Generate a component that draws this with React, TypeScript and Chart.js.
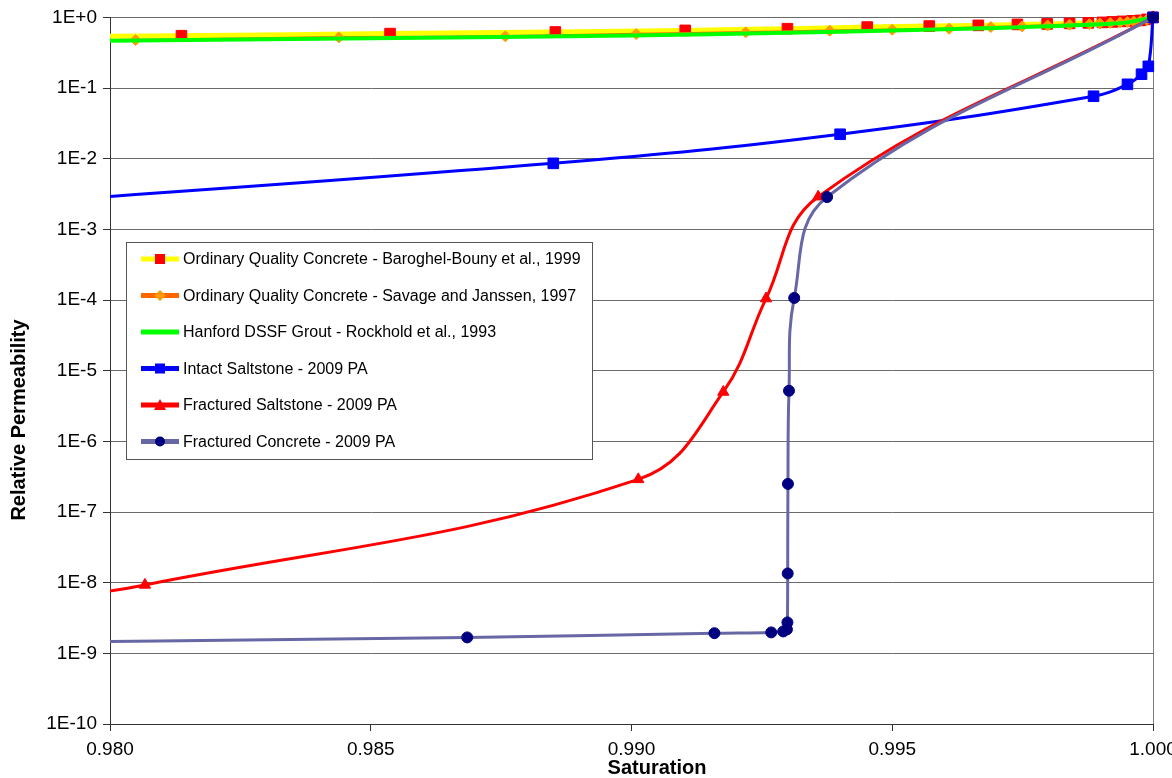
import React, { useEffect, useRef } from 'react';
import { Chart, registerables } from 'chart.js';

Chart.register(...registerables);

// ---------------- DATA ----------------
const baroghelSat = [0.978, 0.98137, 0.98537, 0.98854, 0.99103, 0.99299, 0.99452, 0.99571, 0.99665, 0.9974, 0.99797, 0.9984, 0.99876, 0.99903, 0.99922, 0.99941, 0.9996, 0.99976, 0.99989, 1.0];
const baroghelKr = [0.53, 0.551, 0.59, 0.622, 0.655, 0.692, 0.73, 0.754, 0.771, 0.796, 0.809, 0.823, 0.836, 0.85, 0.864, 0.878, 0.893, 0.907, 0.937, 1.0];

const savageSat = [0.978, 0.98049, 0.98439, 0.98758, 0.99009, 0.99219, 0.9938, 0.995, 0.99609, 0.99689, 0.99749, 0.99798, 0.9984, 0.99878, 0.99898, 0.99918, 0.99937, 0.99951, 0.99963, 0.99976, 0.99988, 1.0];
const savageKr = [0.465, 0.478, 0.522, 0.539, 0.581, 0.614, 0.649, 0.67, 0.692, 0.73, 0.746, 0.771, 0.789, 0.804, 0.823, 0.836, 0.85, 0.864, 0.878, 0.893, 0.922, 0.97];

const hanfordSat = [0.978, 0.985, 0.99, 0.993, 0.995, 0.997, 0.998, 0.999, 0.9995, 1.0];
const hanfordKr = [0.455, 0.505, 0.555, 0.605, 0.65, 0.71, 0.75, 0.8, 0.85, 1.0];

const intactSat = [0.975, 0.9885, 0.994, 0.99886, 0.99951, 0.99978, 0.99991, 1.0];
const intactKr = [1.6e-3, 8.6e-3, 0.0222, 0.0766, 0.113, 0.157, 0.203, 1.0];

const fracSaltSat = [0.978, 0.98067, 0.99013, 0.99176, 0.99258, 0.99358, 1.0];
const fracSaltKr = [4.8e-9, 9.3e-9, 2.9e-7, 5.0e-6, 1.05e-4, 2.9e-3, 1.0];

const fracConcSat = [0.975, 0.98685, 0.99159, 0.99268, 0.99291, 0.99298, 0.99299, 0.992995, 0.993, 0.99302, 0.99312, 0.99375, 1.0];
const fracConcKr = [1.35e-9, 1.68e-9, 1.93e-9, 1.98e-9, 2.04e-9, 2.18e-9, 2.74e-9, 1.35e-8, 2.5e-7, 5.2e-6, 1.07e-4, 2.87e-3, 1.0];

const seriesLabels = [
  'Ordinary Quality Concrete - Baroghel-Bouny et al., 1999',
  'Ordinary Quality Concrete - Savage and Janssen, 1997',
  'Hanford DSSF Grout - Rockhold et al., 1993',
  'Intact Saltstone - 2009 PA',
  'Fractured Saltstone - 2009 PA',
  'Fractured Concrete - 2009 PA',
];

const xTickValues = [0.98, 0.985, 0.99, 0.995, 1.0];
const xTickLabels = ['0.980', '0.985', '0.990', '0.995', '1.000'];
const yTickValues = [1e-10, 1e-9, 1e-8, 1e-7, 1e-6, 1e-5, 1e-4, 1e-3, 1e-2, 1e-1, 1];
const yTickLabels = ['1E-10', '1E-9', '1E-8', '1E-7', '1E-6', '1E-5', '1E-4', '1E-3', '1E-2', '1E-1', '1E+0'];

const xTitle = 'Saturation';
const yTitle = 'Relative Permeability';

// ---------------- STYLE ----------------
const FONT = "'Liberation Sans', Arial, Helvetica, sans-serif";

type Def = {
  xs: number[]; ys: number[]; line: string; width: number; point: string;
  style: any; radius: number; legendWidth: number; legendSize: number;
};

const defs: Def[] = [
  { xs: baroghelSat, ys: baroghelKr, line: '#FFFF00', width: 5, point: '#FF0000', style: 'rect', radius: 7.5, legendWidth: 5, legendSize: 10 },
  { xs: savageSat, ys: savageKr, line: '#FF6600', width: 2.5, point: '#FF9900', style: 'rectRot', radius: 5.5, legendWidth: 5, legendSize: 9 },
  { xs: hanfordSat, ys: hanfordKr, line: '#00FF00', width: 4, point: '#00FF00', style: false, radius: 0, legendWidth: 5, legendSize: 0 },
  { xs: intactSat, ys: intactKr, line: '#0000FF', width: 3, point: '#0000FF', style: 'rect', radius: 7.5, legendWidth: 5, legendSize: 10 },
  { xs: fracSaltSat, ys: fracSaltKr, line: '#FF0000', width: 3, point: '#FF0000', style: 'triangle', radius: 6.5, legendWidth: 5, legendSize: 10 },
  { xs: fracConcSat, ys: fracConcKr, line: '#6767A5', width: 3, point: '#000080', style: 'circle', radius: 5.5, legendWidth: 5, legendSize: 10 },
];

function drawMarker(ctx: CanvasRenderingContext2D, style: any, x: number, y: number, size: number, color: string) {
  if (!style || !size) return;
  const h = size / 2;
  ctx.fillStyle = color;
  ctx.beginPath();
  if (style === 'rect') {
    ctx.rect(x - h, y - h, size, size);
  } else if (style === 'rectRot') {
    ctx.moveTo(x, y - h - 1);
    ctx.lineTo(x + h + 1, y);
    ctx.lineTo(x, y + h + 1);
    ctx.lineTo(x - h - 1, y);
    ctx.closePath();
  } else if (style === 'triangle') {
    ctx.moveTo(x, y - h - 1);
    ctx.lineTo(x + h + 1, y + h);
    ctx.lineTo(x - h - 1, y + h);
    ctx.closePath();
  } else if (style === 'circle') {
    ctx.arc(x, y, h, 0, Math.PI * 2);
  }
  ctx.fill();
}

const framePlugin = {
  id: 'framePlugin',
  beforeDatasetsDraw(chart: any) {
    const { ctx, chartArea: a } = chart;
    ctx.save();
    ctx.strokeStyle = '#808080';
    ctx.lineWidth = 1;
    ctx.beginPath();
    ctx.moveTo(Math.round(a.right) + 0.5, a.top);
    ctx.lineTo(Math.round(a.right) + 0.5, a.bottom);
    ctx.stroke();
    ctx.restore();
  },
  afterDraw(chart: any) {
    const { ctx } = chart;
    ctx.save();
    // legend box
    const bx = 126, by = 242, bw = 466, bh = 217;
    ctx.fillStyle = '#FFFFFF';
    ctx.fillRect(bx, by, bw, bh);
    ctx.strokeStyle = '#555555';
    ctx.lineWidth = 1;
    ctx.strokeRect(bx + 0.5, by + 0.5, bw, bh);
    const y0 = 259;
    const step = 36.5;
    ctx.font = `16px ${FONT}`;
    ctx.textBaseline = 'middle';
    ctx.textAlign = 'left';
    defs.forEach((d, i) => {
      const y = y0 + i * step;
      ctx.strokeStyle = d.line;
      ctx.lineWidth = d.legendWidth;
      ctx.beginPath();
      ctx.moveTo(141, y);
      ctx.lineTo(179, y);
      ctx.stroke();
      drawMarker(ctx, d.style, 160, y, d.legendSize, d.point);
      ctx.fillStyle = '#000000';
      ctx.fillText(seriesLabels[i], 183, y + 1);
    });
    // axis titles
    ctx.fillStyle = '#000000';
    ctx.font = `bold 20px ${FONT}`;
    ctx.textAlign = 'center';
    ctx.textBaseline = 'middle';
    ctx.fillText(xTitle, 657, 768);
    ctx.translate(19, 420);
    ctx.rotate(-Math.PI / 2);
    ctx.fillText(yTitle, 0, 0);
    ctx.restore();
  },
};

export default function App() {
  const ref = useRef<HTMLCanvasElement>(null);

  useEffect(() => {
    const canvas = ref.current!;
    const n = defs.length;
    const chart = new Chart(canvas, {
      type: 'line',
      data: {
        datasets: defs.map((d, i) => ({
          label: seriesLabels[i],
          data: d.xs.map((x, j) => ({ x, y: d.ys[j] })),
          borderColor: d.line,
          borderWidth: d.width,
          backgroundColor: d.point,
          pointBackgroundColor: d.point,
          pointBorderColor: d.point,
          pointBorderWidth: 1,
          pointStyle: d.style,
          pointRadius: d.radius,
          tension: 0.4,
          fill: false,
          order: n - i,
          clip: { left: 0, top: 10, right: 10, bottom: 0 },
        })) as any,
      },
      options: {
        animation: false,
        responsive: false,
        maintainAspectRatio: false,
        events: [],
        layout: { padding: { top: 16, right: 47, left: 0, bottom: 0 } },
        plugins: { legend: { display: false }, tooltip: { enabled: false } },
        scales: {
          x: {
            type: 'linear',
            min: 0.98,
            max: 1.0,
            afterFit: (s: any) => { s.height = 54; },
            afterBuildTicks: (s: any) => { s.ticks = xTickValues.map((v) => ({ value: v })); },
            ticks: {
              callback: (_v: any, i: number) => xTickLabels[i],
              font: { family: FONT, size: 19 },
              color: '#000000',
              padding: 7,
              autoSkip: false,
              maxRotation: 0,
            },
            grid: { drawOnChartArea: false, tickLength: 7, tickColor: '#333333' },
            border: { color: '#333333', width: 1 },
          },
          y: {
            type: 'logarithmic',
            min: 1e-10,
            max: 1,
            afterFit: (s: any) => { s.width = 110; },
            afterBuildTicks: (s: any) => { s.ticks = yTickValues.map((v) => ({ value: v })); },
            ticks: {
              callback: (_v: any, i: number) => yTickLabels[i],
              font: { family: FONT, size: 19 },
              color: '#000000',
              padding: 6,
              autoSkip: false,
            },
            grid: { color: '#6a6a6a', lineWidth: 1, tickLength: 7, tickColor: '#333333' },
            border: { color: '#333333', width: 1 },
          },
        },
      } as any,
      plugins: [framePlugin],
    });
    return () => chart.destroy();
  }, []);

  return (
    <div style={{ position: 'absolute', left: 0, top: 0, width: 1172, height: 778, overflow: 'hidden', background: '#ffffff' }}>
      <canvas ref={ref} width={1200} height={778} style={{ display: 'block', width: 1200, height: 778 }} />
    </div>
  );
}
